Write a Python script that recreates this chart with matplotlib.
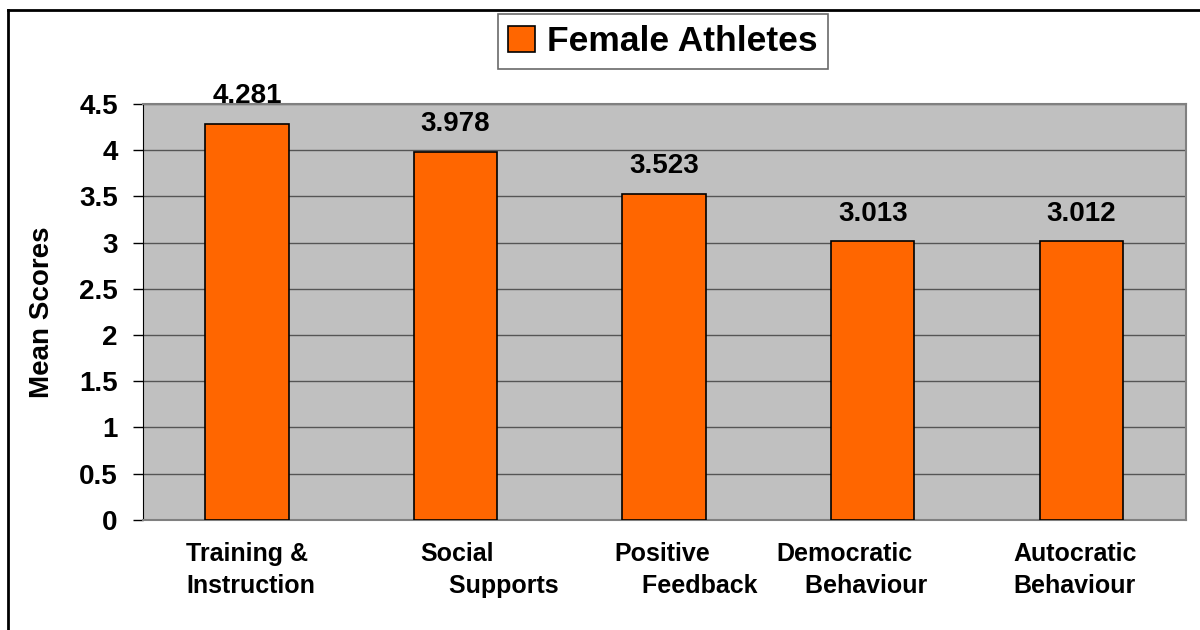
import matplotlib.pyplot as plt
import matplotlib.transforms as mtransforms
from matplotlib.lines import Line2D

categories = ["Training &\nInstruction", "Social\n    Supports", "Positive\n    Feedback",
              "Democratic\n    Behaviour", "Autocratic\nBehaviour"]
scores = [4.281, 3.978, 3.523, 3.013, 3.012]
value_labels = ["4.281", "3.978", "3.523", "3.013", "3.012"]
yticks = [0, 0.5, 1, 1.5, 2, 2.5, 3, 3.5, 4, 4.5]
# left edge of each category label relative to its category centre (pixels)
label_shift = [-61, -35, -50, -96, -68]

plt.rcParams["font.family"] = ["Liberation Sans", "DejaVu Sans"]
plt.rcParams["font.weight"] = "bold"

fig = plt.figure(figsize=(12, 6.3), dpi=100)
ax = fig.add_axes([0.119, 0.175, 0.869, 0.66])
ax.set_facecolor("#C0C0C0")

x = range(len(scores))
bars = ax.bar(x, scores, width=0.4, color="#FF6600", edgecolor="black",
              linewidth=1.2, label="Female Athletes", zorder=3)

for xi, v, lab in zip(x, scores, value_labels):
    ax.annotate(lab, (xi, v), xytext=(0, 20), textcoords="offset points",
                ha="center", va="center", fontsize=20, fontweight="bold")

ax.set_xlim(-0.5, len(scores) - 0.5)
ax.set_ylim(0, 4.5)
ax.set_yticks(yticks)
ax.set_yticklabels([f"{t:g}" for t in yticks], fontsize=20, fontweight="bold")
ax.set_xticks(list(x))
ax.set_xticklabels([])
ax.tick_params(axis="x", length=0)
ax.tick_params(axis="y", length=7, width=1, color="black", pad=11, direction="out")
ax.yaxis.grid(True, color="#555555", linewidth=1, zorder=1)
ax.set_axisbelow(True)

# category labels, placed like the original (left aligned, second line indented)
base = mtransforms.blended_transform_factory(ax.transData, ax.transAxes)
for xi, lab, dx in zip(x, categories, label_shift):
    tr = mtransforms.offset_copy(base, fig=fig, x=dx, y=-22, units="dots")
    ax.text(xi, 0, lab, transform=tr, ha="left", va="top", fontsize=18,
            fontweight="bold", multialignment="left", linespacing=1.42)

for side in ["top", "right", "bottom"]:
    ax.spines[side].set_color("#808080")
    ax.spines[side].set_linewidth(1.5)
ax.spines["left"].set_color("black")

ax.set_ylabel("Mean Scores", fontsize=20, fontweight="bold", labelpad=17)

leg = fig.legend(handles=[bars], loc="center", bbox_to_anchor=(0.5525, 0.934),
                 frameon=True, fancybox=False, edgecolor="#444444",
                 handlelength=0.75, handleheight=0.75, handletextpad=0.35,
                 borderpad=0.3, prop={"weight": "bold", "size": 25.5})
leg.get_frame().set_linewidth(1.2)

# outer chart border (top and left visible in reference)
fig.add_artist(Line2D([0.007, 1.0], [0.984, 0.984], color="black", linewidth=2))
fig.add_artist(Line2D([0.007, 0.007], [0.0, 0.984], color="black", linewidth=2))

fig.savefig("out.png", dpi=100)
